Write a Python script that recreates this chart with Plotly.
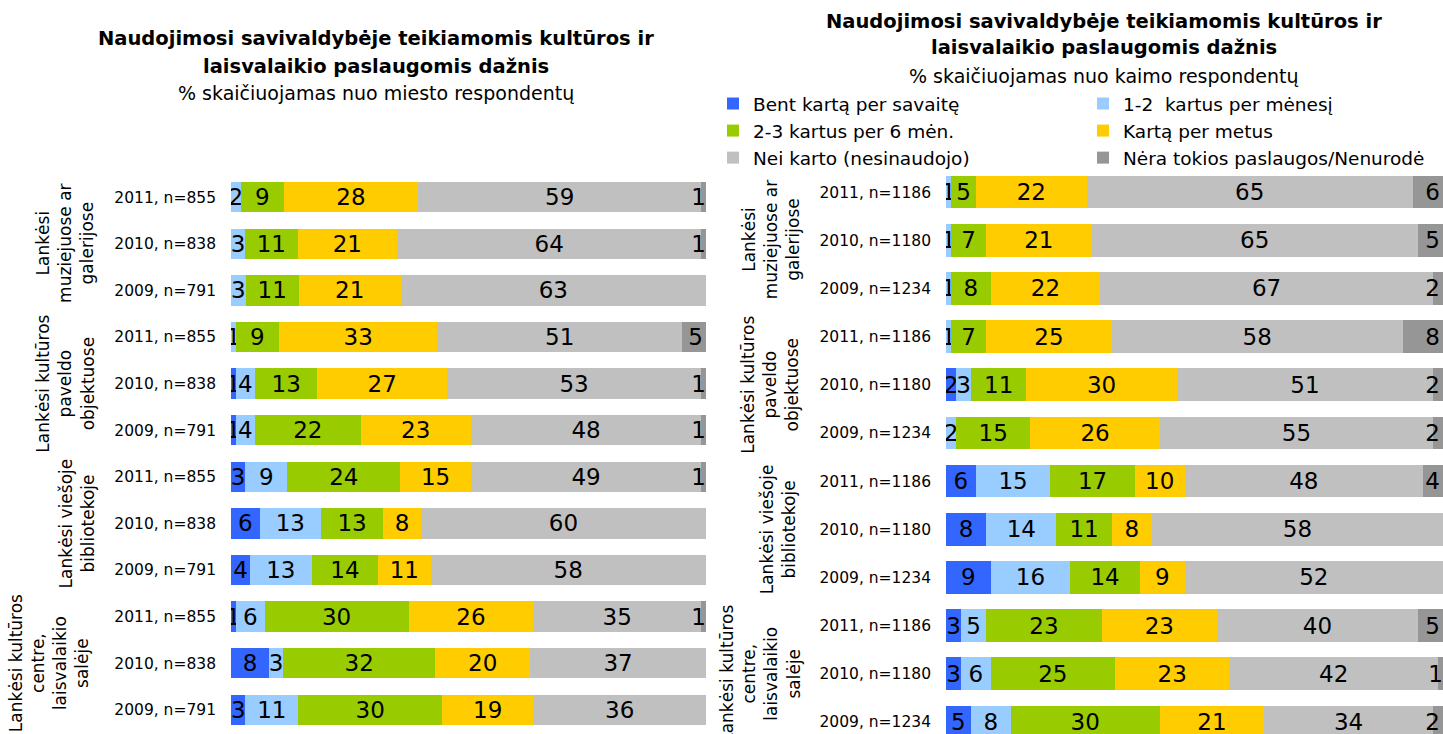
import plotly.graph_objects as go

# ---------------- data ----------------
series_names = ["Bent kartą per savaitę", "1-2  kartus per mėnesį", "2-3 kartus per 6 mėn.",
                "Kartą per metus", "Nei karto (nesinaudojo)", "Nėra tokios paslaugos/Nenurodė"]
colors = ["#3366FF", "#99CCFF", "#99CC00", "#FFCC00", "#C0C0C0", "#969696"]

group_labels = ["Lankėsi<br>muziejuose ar<br>galerijose",
                "Lankėsi kultūros<br>paveldo<br>objektuose",
                "Lankėsi viešoje<br>bibliotekoje",
                "Lankėsi kultūros<br>centre,<br>laisvalaikio<br>salėje"]

city_rows = ["2011, n=855", "2010, n=838", "2009, n=791"] * 4
village_rows = ["2011, n=1186", "2010, n=1180", "2009, n=1234"] * 4

# city (miesto) respondents, rows top to bottom
city_weekly = [0, 0, 0, 0, 1, 1, 3, 6, 4, 1, 8, 3]
city_monthly = [2, 3, 3, 1, 4, 4, 9, 13, 13, 6, 3, 11]
city_6months = [9, 11, 11, 9, 13, 22, 24, 13, 14, 30, 32, 30]
city_yearly = [28, 21, 21, 33, 27, 23, 15, 8, 11, 26, 20, 19]
city_never = [59, 64, 63, 51, 53, 48, 49, 60, 58, 35, 37, 36]
city_na = [1, 1, 0, 5, 1, 1, 1, 0, 0, 1, 0, 0]

# village (kaimo) respondents, rows top to bottom
vil_weekly = [0, 0, 0, 0, 2, 0, 6, 8, 9, 3, 3, 5]
vil_monthly = [1, 1, 1, 1, 3, 2, 15, 14, 16, 5, 6, 8]
vil_6months = [5, 7, 8, 7, 11, 15, 17, 11, 14, 23, 25, 30]
vil_yearly = [22, 21, 22, 25, 30, 26, 10, 8, 9, 23, 23, 21]
vil_never = [65, 65, 67, 58, 51, 55, 48, 58, 52, 40, 42, 34]
vil_na = [6, 5, 2, 8, 2, 2, 4, 0, 0, 5, 1, 2]

city_series = [city_weekly, city_monthly, city_6months, city_yearly, city_never, city_na]
vil_series = [vil_weekly, vil_monthly, vil_6months, vil_yearly, vil_never, vil_na]

# ---------------- layout helpers ----------------
W, H = 1443, 734
FONT = "DejaVu Sans"


def px_x(p):
    return p / W


def px_y(p):
    return 1 - p / H


fig = go.Figure()

for i, name in enumerate(series_names):
    leg = "legend" if i % 2 == 0 else "legend2"
    anchor = "end" if i == len(series_names) - 1 else "middle"
    vals = city_series[i]
    fig.add_trace(go.Bar(
        name=name, orientation="h", x=vals, y=list(range(len(city_rows))),
        xaxis="x", yaxis="y", width=0.65,
        marker=dict(color=colors[i], line=dict(width=0)),
        text=[str(v) if v else "" for v in vals], texttemplate="%{text}",
        textposition="inside", insidetextanchor=anchor, textangle=0,
        textfont=dict(color="black", size=23, family=FONT),
        showlegend=False, legendgroup=name, legend=leg, hoverinfo="skip"))
    vals = vil_series[i]
    fig.add_trace(go.Bar(
        name=name, orientation="h", x=vals, y=list(range(len(village_rows))),
        xaxis="x2", yaxis="y2", width=0.68,
        marker=dict(color=colors[i], line=dict(width=0)),
        text=[str(v) if v else "" for v in vals], texttemplate="%{text}",
        textposition="inside", insidetextanchor=anchor, textangle=0,
        textfont=dict(color="black", size=23, family=FONT),
        showlegend=True, legendgroup=name, legend=leg, hoverinfo="skip"))

axis_common = dict(showgrid=False, zeroline=False, showline=False, showticklabels=False,
                   fixedrange=True)

annotations = []
# titles
for x, ys, sub in [(376, (39, 66, 93), "% skaičiuojamas nuo miesto respondentų"),
                   (1104, (21, 48, 76), "% skaičiuojamas nuo kaimo respondentų")]:
    annotations.append(dict(text="<b>Naudojimosi savivaldybėje teikiamomis kultūros ir</b>",
                            x=px_x(x), y=px_y(ys[0]), xref="paper", yref="paper",
                            showarrow=False, xanchor="center", yanchor="middle",
                            font=dict(size=19.5, family=FONT, color="black")))
    annotations.append(dict(text="<b>laisvalaikio paslaugomis dažnis</b>",
                            x=px_x(x), y=px_y(ys[1]), xref="paper", yref="paper",
                            showarrow=False, xanchor="center", yanchor="middle",
                            font=dict(size=19.5, family=FONT, color="black")))
    annotations.append(dict(text=sub, x=px_x(x), y=px_y(ys[2]), xref="paper", yref="paper",
                            showarrow=False, xanchor="center", yanchor="middle",
                            font=dict(size=19, family=FONT, color="black")))

# group labels (rotated)
left_x = [65, 65, 77, 49]
right_x = [771, 770, 778, 760]
for g, lab in enumerate(group_labels):
    center_row = g * 3 + 1
    annotations.append(dict(text=lab, x=px_x(left_x[g]), y=center_row, xref="paper", yref="y",
                            showarrow=False, textangle=-90, xanchor="center", yanchor="middle",
                            font=dict(size=17, family=FONT, color="black")))
    annotations.append(dict(text=lab, x=px_x(right_x[g]), y=center_row, xref="paper", yref="y2",
                            showarrow=False, textangle=-90, xanchor="center", yanchor="middle",
                            font=dict(size=17, family=FONT, color="black")))

legend_common = dict(orientation="v", xanchor="left", yanchor="top",
                     font=dict(size=18.5, family=FONT, color="black"),
                     bgcolor="rgba(0,0,0,0)", borderwidth=0, tracegroupgap=0,
                     traceorder="grouped")

fig.update_layout(
    width=W, height=H,
    margin=dict(l=0, r=0, t=0, b=0),
    paper_bgcolor="white", plot_bgcolor="white",
    barmode="stack", barnorm="percent",
    uniformtext=dict(minsize=23, mode="show"),
    font=dict(family=FONT, color="black"),
    xaxis=dict(domain=[px_x(231), px_x(706)], range=[0, 100], anchor="y", **axis_common),
    xaxis2=dict(domain=[px_x(946), 1.0], range=[0, 100], anchor="y2", **axis_common),
    yaxis=dict(domain=[px_y(733), px_y(174)], range=[11.5, -0.5], anchor="x",
               tickvals=list(range(len(city_rows))), ticktext=city_rows,
               showgrid=False, zeroline=False, showline=False, ticks="",
               ticklabelstandoff=14, tickfont=dict(size=15.5, family=FONT, color="black"),
               fixedrange=True),
    yaxis2=dict(domain=[0, px_y(168)], range=[11.25, -0.5], anchor="x2",
                tickvals=list(range(len(village_rows))), ticktext=village_rows,
                showgrid=False, zeroline=False, showline=False, ticks="",
                ticklabelstandoff=14, tickfont=dict(size=15.5, family=FONT, color="black"),
                fixedrange=True),
    legend=dict(x=px_x(713), y=px_y(85), **legend_common),
    legend2=dict(x=px_x(1083), y=px_y(85), **legend_common),
    annotations=annotations,
    showlegend=True,
)

fig.write_html("out.html", config={"displayModeBar": False},
               post_script="document.body.style.margin='0';")
